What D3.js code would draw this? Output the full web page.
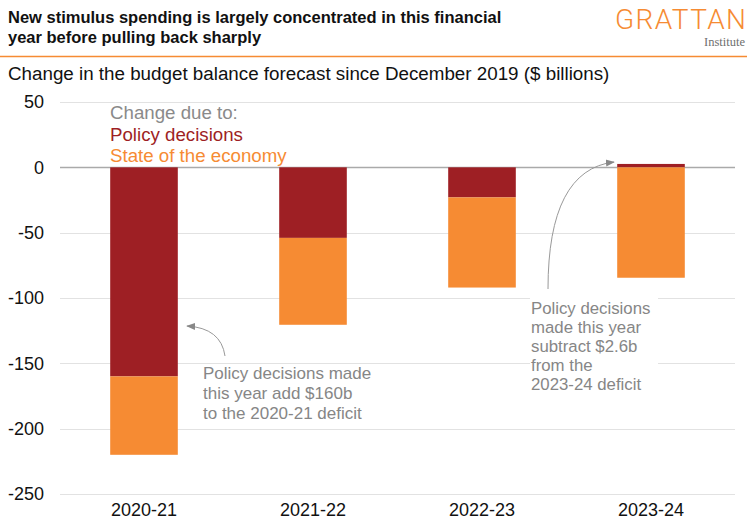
<!DOCTYPE html>
<html>
<head>
<meta charset="utf-8">
<script src="https://cdn.jsdelivr.net/npm/d3@7"></script>
<style>
  html, body { margin: 0; padding: 0; background: #fff; }
  svg { display: block; font-family: "Liberation Sans", Arial, Helvetica, sans-serif; }
</style>
</head>
<body>
<svg id="chart" width="754" height="528"></svg>
<script>
const years = ["2020-21", "2021-22", "2022-23", "2023-24"];
const policyDecisions = [-160, -54, -23, 2.6];
const stateOfEconomy = [-60, -66.5, -69, -84.5];
const yTicks = [50, 0, -50, -100, -150, -200, -250];
const seriesNames = ["Policy decisions", "State of the economy"];

const colors = { "Policy decisions": "#9E1F24", "State of the economy": "#F68B33" };

const svg = d3.select("#chart");

// Title
svg.append("text").attr("x", 8).attr("y", 23)
  .attr("font-size", 16.5).attr("font-weight", "bold").attr("fill", "#111")
  .text("New stimulus spending is largely concentrated in this financial");
svg.append("text").attr("x", 8).attr("y", 43)
  .attr("font-size", 16.5).attr("font-weight", "bold").attr("fill", "#111")
  .text("year before pulling back sharply");

// Logo
svg.append("text").attr("x", 615).attr("y", 28.5)
  .attr("font-size", 28).attr("font-weight", 300).attr("fill", "#F68B33")
  .style("font-family", "Roboto, 'Liberation Sans', sans-serif")
  .attr("textLength", 131).attr("lengthAdjust", "spacing")
  .text("GRATTAN");
svg.append("text").attr("x", 745).attr("y", 45.5).attr("text-anchor", "end")
  .attr("font-size", 12.5).attr("fill", "#6f6f6f")
  .style("font-family", "'Liberation Serif', 'DejaVu Serif', serif")
  .text("Institute");

// Orange rule
svg.append("line").attr("x1", 0).attr("x2", 747).attr("y1", 56.5).attr("y2", 56.5)
  .attr("stroke", "#F68B33").attr("stroke-width", 1.5);

// Subtitle
svg.append("text").attr("x", 8).attr("y", 80)
  .attr("font-size", 18.8).attr("fill", "#111")
  .text("Change in the budget balance forecast since December 2019 ($ billions)");

// Scales
const x = d3.scaleBand().domain(years).range([59.5, 735.5]).paddingInner(0.6).paddingOuter(0.3);
const y = d3.scaleLinear().domain([-250, 50]).range([494, 102]);

// Gridlines
const grid = svg.append("g");
grid.selectAll("line").data(yTicks).join("line")
  .attr("x1", 60).attr("x2", 735)
  .attr("y1", d => Math.round(y(d)) + 0.5).attr("y2", d => Math.round(y(d)) + 0.5)
  .attr("stroke", d => d === 0 ? "#aaaaaa" : "#e2e2e2")
  .attr("stroke-width", d => d === 0 ? 1.6 : 1.2);

// Y axis labels
const yAxis = d3.axisLeft(y).tickValues(yTicks).tickSize(0).tickPadding(0).tickFormat(d => String(d));
const yg = svg.append("g").attr("transform", "translate(44,0)").call(yAxis);
yg.select(".domain").remove();
yg.selectAll("text").attr("font-size", 18).attr("fill", "#111")
  .style("font-family", "'Liberation Sans', Arial, sans-serif");

// X axis labels
const xAxis = d3.axisBottom(x).tickSize(0).tickPadding(0);
const xg = svg.append("g").attr("transform", "translate(0,503)").call(xAxis);
xg.select(".domain").remove();
xg.selectAll("text").attr("font-size", 18).attr("fill", "#111")
  .style("font-family", "'Liberation Sans', Arial, sans-serif");

// Stack
const table = years.map((yr, i) => ({ year: yr, "Policy decisions": policyDecisions[i], "State of the economy": stateOfEconomy[i] }));
const stack = d3.stack().keys(seriesNames).offset(d3.stackOffsetDiverging);
const layers = stack(table);

svg.append("g").selectAll("g").data(layers).join("g")
  .attr("fill", d => colors[d.key])
  .selectAll("rect").data(d => d).join("rect")
  .attr("x", d => x(d.data.year))
  .attr("width", x.bandwidth())
  .attr("y", d => y(Math.max(d[0], d[1])))
  .attr("height", d => Math.abs(y(d[0]) - y(d[1])));

// Legend
const leg = svg.append("g").attr("font-size", 18.7);
leg.append("text").attr("x", 110).attr("y", 119).attr("fill", "#8a8a8a").text("Change due to:");
leg.append("text").attr("x", 110).attr("y", 140.5).attr("fill", colors["Policy decisions"]).text("Policy decisions");
leg.append("text").attr("x", 110).attr("y", 162).attr("fill", colors["State of the economy"]).text("State of the economy");

// Arrow marker
const defs = svg.append("defs");
defs.append("marker").attr("id", "arr").attr("viewBox", "0 0 10 10")
  .attr("refX", 9).attr("refY", 5).attr("markerWidth", 9).attr("markerHeight", 9)
  .attr("markerUnits", "userSpaceOnUse").attr("orient", "auto")
  .append("path").attr("d", "M0,1 L10,5 L0,9 Z").attr("fill", "#888");

// Annotation 1
svg.append("path").attr("d", "M225,356 Q221,328 187,326")
  .attr("fill", "none").attr("stroke", "#999").attr("stroke-width", 1)
  .attr("marker-end", "url(#arr)");
const a1 = svg.append("text").attr("font-size", 17).attr("fill", "#868686");
["Policy decisions made", "this year add $160b", "to the 2020-21 deficit"].forEach((t, i) => {
  a1.append("tspan").attr("x", 203).attr("y", 379 + i * 20).text(t);
});

// Annotation 2
svg.append("rect").attr("x", 530).attr("y", 294).attr("width", 128).attr("height", 100).attr("fill", "#fff");
svg.append("path").attr("d", "M548,289 Q548,170 614,162")
  .attr("fill", "none").attr("stroke", "#999").attr("stroke-width", 1)
  .attr("marker-end", "url(#arr)");
const a2 = svg.append("text").attr("font-size", 16.8).attr("fill", "#868686");
["Policy decisions", "made this year", "subtract $2.6b", "from the", "2023-24 deficit"].forEach((t, i) => {
  a2.append("tspan").attr("x", 531).attr("y", 314 + i * 19).text(t);
});
</script>
</body>
</html>
